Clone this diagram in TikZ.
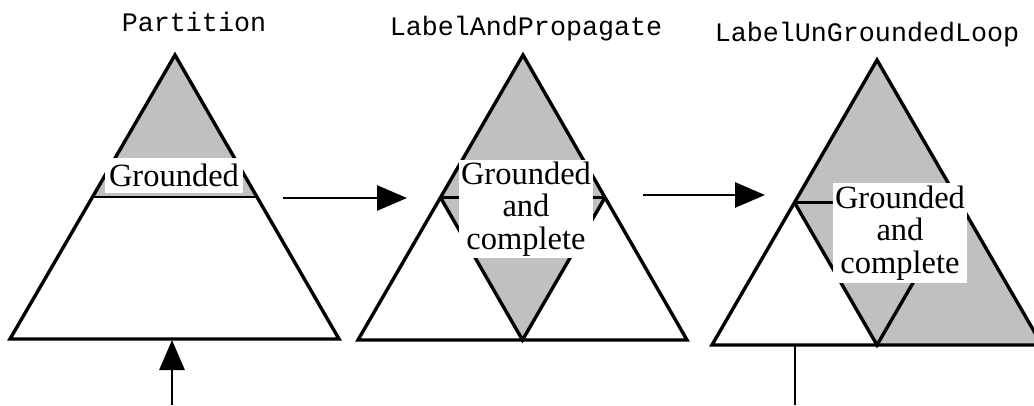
\documentclass[tikz,border=0pt]{standalone}
\usepackage{fontspec}
\setmainfont{Liberation Serif}
\setmonofont{Liberation Mono}
\usepackage{tikz}
\usetikzlibrary{arrows.meta,calc}
\definecolor{mygray}{HTML}{C0C0C0}
\tikzstyle{region} = [fill=mygray]
\tikzstyle{tri} = [draw, line width=3.4pt, line join=miter]
\tikzstyle{midline} = [draw, line width=2.4pt]
\tikzstyle{textbox} = [fill=white, align=center, inner sep=0pt, font=\fontsize{32.5}{32.5}\selectfont]
\tikzstyle{title} = [font=\ttfamily\fontsize{26.7}{30}\selectfont]
\tikzstyle{line} = [draw, line width=2.8pt, -{Triangle[length=30pt,width=25pt]}]

\begin{document}
\begin{tikzpicture}[x=1pt, y=-1pt]
    \clip (0,0) rectangle (1034,405);

    % corners
    \coordinate (a1) at (175,55);
    \coordinate (l1) at (10,339);
    \coordinate (r1) at (339,339);
    \coordinate (a2) at (523,55);
    \coordinate (l2) at (358,340);
    \coordinate (r2) at (687,340);
    \coordinate (a3) at (877,60);
    \coordinate (l3) at (712,345);
    \coordinate (r3) at (1042,345);
    \coordinate (ml1) at ($(a1)!0.5!(l1)$);
    \coordinate (mr1) at ($(a1)!0.5!(r1)$);
    \coordinate (ml2) at ($(a2)!0.5!(l2)$);
    \coordinate (mr2) at ($(a2)!0.5!(r2)$);
    \coordinate (mb2) at ($(l2)!0.5!(r2)$);
    \coordinate (ml3) at ($(a3)!0.5!(l3)$);
    \coordinate (mr3) at ($(a3)!0.5!(r3)$);
    \coordinate (mb3) at ($(l3)!0.5!(r3)$);

    % Partition
    \fill[region] (a1) -- (ml1) -- (mr1) -- cycle;
    \draw[tri] (a1) -- (l1) -- (r1) -- cycle;
    \draw[midline] (ml1) -- (mr1);

    % LabelAndPropagate
    \fill[region] (a2) -- (ml2) -- (mr2) -- cycle;
    \fill[region] (ml2) -- (mr2) -- (mb2) -- cycle;
    \draw[tri] (a2) -- (l2) -- (r2) -- cycle;
    \draw[tri] (ml2) -- (mb2) -- (mr2);
    \draw[midline] (ml2) -- (mr2);

    % LabelUnGroundedLoop
    \fill[region] (a3) -- (l3) -- (r3) -- cycle;
    \fill[white] (l3) -- (ml3) -- (mb3) -- cycle;
    \draw[tri] (a3) -- (l3) -- (r3) -- cycle;
    \draw[tri] (ml3) -- (mb3) -- (mr3);
    \draw[midline] (ml3) -- (mr3);

    % Nodes
    \node[textbox, minimum width=138pt, minimum height=35pt] (grounded1) at (174,175) {Grounded};
    \node[textbox, minimum width=134pt, minimum height=98pt] (grounded2) at (526,209) {Grounded\\and\\complete};
    \node[textbox, minimum width=134pt, minimum height=100pt] (grounded3) at (900,233) {Grounded\\and\\complete};
    \node[title] (partition) at (194,22) {Partition};
    \node[title] (propagate) at (526,29) {LabelAndPropagate};
    \node[title] (unground) at (867,35) {LabelUnGroundedLoop};

    % arrows
    \coordinate (from1) at (283,198);
    \coordinate (to1) at (407,198);
    \coordinate (from2) at (643,195);
    \coordinate (to2) at (765,195);
    \coordinate (in1) at (172,405);
    \coordinate (entry1) at (172,340);
    \coordinate (foot3) at (795,345);
    \coordinate (out3) at (795,405);
    \draw[line] (from1) -- (to1);
    \draw[line] (from2) -- (to2);
    \draw[line] (in1) -- (entry1);
    \draw[line width=2.8pt] (foot3) -- (out3);

\end{tikzpicture}
\end{document}
